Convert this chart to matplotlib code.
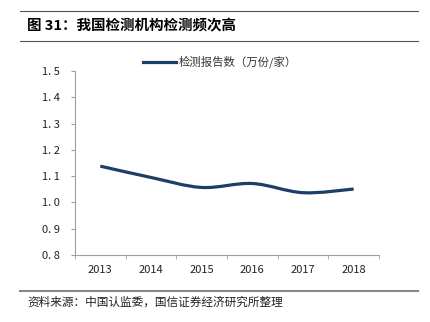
import matplotlib
matplotlib.use("Agg")
import matplotlib.pyplot as plt
from matplotlib.path import Path
from matplotlib.patches import PathPatch
from matplotlib.lines import Line2D
import numpy as np

plt.rcParams['font.family'] = ['Noto Sans CJK SC', 'DejaVu Sans']

years = ['2013', '2014', '2015', '2016', '2017', '2018']
reports = [1.138, 1.095, 1.057, 1.072, 1.037, 1.051]
yticks = [0.8, 0.9, 1.0, 1.1, 1.2, 1.3, 1.4, 1.5]
ytick_labels = ['0. 8', '0. 9', '1. 0', '1. 1', '1. 2', '1. 3', '1. 4', '1. 5']
series_name = '检测报告数（万份/家）'
title = '图 31：我国检测机构检测频次高'
source = '资料来源：中国认监委，国信证券经济研究所整理'

W, H = 431, 322
fig = plt.figure(figsize=(W / 100, H / 100), dpi=100)
ax = fig.add_axes([75 / W, 1 - 255 / H, (379 - 75) / W, (255 - 71) / H])

line_color = '#1B3F66'
x = np.arange(len(years))
y = np.array(reports)

# smoothed line (Catmull-Rom converted to cubic Bezier), drawn in data coords
verts = [(x[0], y[0])]
codes = [Path.MOVETO]
n = len(x)
t = 1 / 6
for i in range(n - 1):
    p0 = (x[max(i - 1, 0)], y[max(i - 1, 0)])
    p1 = (x[i], y[i])
    p2 = (x[i + 1], y[i + 1])
    p3 = (x[min(i + 2, n - 1)], y[min(i + 2, n - 1)])
    c1 = (p1[0] + (p2[0] - p0[0]) * t, p1[1] + (p2[1] - p0[1]) * t)
    c2 = (p2[0] - (p3[0] - p1[0]) * t, p2[1] - (p3[1] - p1[1]) * t)
    verts += [c1, c2, p2]
    codes += [Path.CURVE4] * 3
ax.add_patch(PathPatch(Path(verts, codes), facecolor='none', edgecolor=line_color,
                       lw=2.3, capstyle='butt'))

ax.set_xlim(-0.5, len(years) - 0.5)
ax.set_ylim(0.8, 1.5)
ax.set_yticks(yticks)
ax.set_yticklabels(ytick_labels)
ax.set_xticks(x)
ax.set_xticklabels(years)
ax.set_xticks(np.arange(-0.5, len(years) + 0.5, 1), minor=True)
ax.tick_params(axis='x', which='major', length=0, pad=7, labelsize=8, colors='#222222')
ax.tick_params(axis='x', which='minor', length=3, color='#A0A0A0', direction='out')
ax.tick_params(axis='y', length=3, color='#A0A0A0', direction='out', pad=8,
               labelsize=8, labelcolor='#222222')
for s in ['top', 'right']:
    ax.spines[s].set_visible(False)
for s in ['left', 'bottom']:
    ax.spines[s].set_color('#A0A0A0')
    ax.spines[s].set_linewidth(0.8)

# legend
handle = Line2D([], [], color=line_color, lw=2.3)
fig.legend([handle], [series_name], loc='center', bbox_to_anchor=(220 / W, 1 - 62 / H),
           frameon=False, fontsize=8.2, handlelength=2.9, handletextpad=0.25,
           labelcolor='#333333')

# title and rules
fig.text(27 / W, 1 - 26 / H, title, fontsize=10.45, fontweight='bold', va='center', ha='left')
fig.add_artist(Line2D([20 / W, 418 / W], [1 - 11 / H, 1 - 11 / H], color='#555555', lw=0.8))
fig.add_artist(Line2D([20 / W, 418 / W], [1 - 41 / H, 1 - 41 / H], color='#555555', lw=0.8))
fig.add_artist(Line2D([20 / W, 418 / W], [1 - 291 / H, 1 - 291 / H], color='#888888', lw=1.5))
fig.text(27 / W, 1 - 302 / H, source, fontsize=8.4, va='center', ha='left', color='#222222')

fig.savefig('out.png', dpi=100)
